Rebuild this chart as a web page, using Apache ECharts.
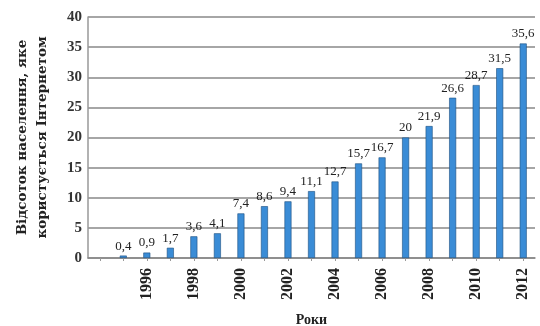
<!DOCTYPE html>
<html>
<head>
<meta charset="utf-8">
<script src="https://cdn.jsdelivr.net/npm/echarts@6/dist/echarts.min.js"></script>
<style>
  html, body { margin: 0; padding: 0; background: #fff; }
  #chart { width: 540px; height: 326px; }
</style>
</head>
<body>
<div id="chart"></div>
<script>
// роки (перша категорія порожня, щоб дати відступ від осі)
var years = ['1994', '1995', '1996', '1997', '1998', '1999', '2000', '2001', '2002', '2003',
  '2004', '2005', '2006', '2007', '2008', '2009', '2010', '2011', '2012'];
// відсоток користувачів Інтернету
var values = ['-', 0.4, 0.9, 1.7, 3.6, 4.1, 7.4, 8.6, 9.4, 11.1,
  12.7, 15.7, 16.7, 20, 21.9, 26.6, 28.7, 31.5, 35.6];
var yTicks = [0, 5, 10, 15, 20, 25, 30, 35, 40];

var serif = '"Liberation Serif", "DejaVu Serif", serif';
var wideSerif = '"DejaVu Serif", serif';
var myChart = echarts.init(document.getElementById('chart'));

var option = {
  animation: false,
  grid: { left: 88, right: 5, top: 17, bottom: 68, outerBoundsMode: 'none', containLabel: false },
  xAxis: {
    type: 'category',
    data: years,
    name: 'Роки',
    nameLocation: 'middle',
    nameGap: 55,
    nameTextStyle: { fontFamily: serif, fontWeight: 'bold', fontSize: 14, color: '#222' },
    axisLine: { lineStyle: { color: '#888', width: 1.5 } },
    axisTick: { show: true, alignWithLabel: true, length: 3, lineStyle: { color: '#999' } },
    axisLabel: {
      rotate: 90,
      interval: 0,
      margin: 10,
      fontFamily: serif,
      fontWeight: 'bold',
      fontSize: 16,
      color: '#222',
      formatter: function (v) {
        return (+v % 2 === 0 && +v >= 1996) ? v : '';
      }
    }
  },
  yAxis: {
    type: 'value',
    min: 0,
    max: 40,
    interval: 5,
    name: 'Відсоток населення, яке\nкористується Інтернетом',
    nameLocation: 'middle',
    nameRotate: 90,
    nameGap: 36,
    nameTextStyle: { fontFamily: wideSerif, fontWeight: 'bold', fontSize: 13.5, color: '#222', lineHeight: 20 },
    axisLine: { show: true, lineStyle: { color: '#999', width: 1.5 } },
    axisTick: { show: false },
    axisLabel: {
      fontFamily: serif, fontWeight: 'bold', fontSize: 15, color: '#333', margin: 6,
      formatter: function (v) { return yTicks.indexOf(v) >= 0 ? v : ''; }
    },
    splitLine: { lineStyle: { color: '#888', width: 1.5 } }
  },
  series: [{
    type: 'bar',
    data: values,
    barWidth: 7,
    itemStyle: { color: '#3a8cd6', borderColor: '#1d4f80', borderWidth: 0.6 },
    label: {
      show: true,
      position: 'top',
      distance: 3,
      fontFamily: serif,
      fontSize: 13,
      color: '#222',
      formatter: function (p) { return String(p.value).replace('.', ','); }
    }
  }]
};
myChart.setOption(option);
</script>
</body>
</html>
